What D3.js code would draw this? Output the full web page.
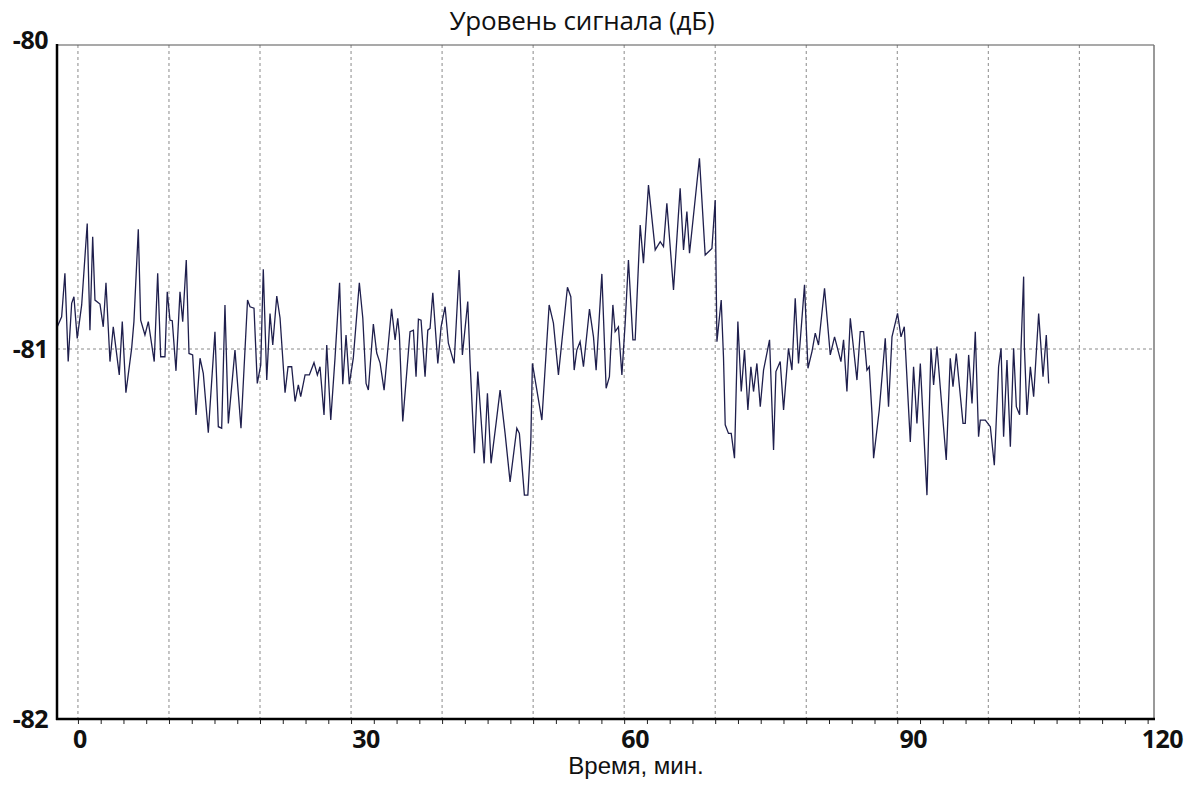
<!DOCTYPE html>
<html>
<head>
<meta charset="utf-8">
<script src="https://cdn.jsdelivr.net/npm/d3@7"></script>
<style>
  html, body { margin: 0; padding: 0; background: #fff; }
  svg { display: block; }
</style>
</head>
<body>
<svg id="chart"></svg>
<script>
// Время, мин.
const times = [
  -2.27, -1.79, -1.43, -1.07, -0.69, -0.44, -0.08, 0.41, 1.02, 1.32, 1.62, 1.87, 2.42, 2.78, 3.08, 3.52, 3.88, 4.54, 4.87, 5.27,
  5.90, 6.15, 6.63, 6.89, 7.36, 7.73, 8.38, 8.76, 9.09, 9.56, 9.81, 10.11, 10.36, 10.77, 11.21, 11.51, 11.90, 12.20, 12.60, 12.97,
  13.41, 13.77, 14.32, 15.05, 15.42, 15.79, 16.15, 16.52, 17.25, 17.91, 18.63, 18.90, 19.34, 19.70, 20.08, 20.36, 20.74, 21.10, 21.40, 21.84,
  22.20, 22.75, 23.08, 23.48, 23.85, 24.21, 24.47, 24.95, 25.42, 25.93, 26.30, 26.59, 27.03, 27.33, 27.77, 28.24, 28.74, 29.09, 29.45, 29.81,
  30.25, 30.91, 31.29, 31.65, 31.90, 32.45, 32.82, 33.19, 33.63, 34.10, 34.45, 34.84, 35.13, 35.31, 35.68, 36.48, 36.85, 37.14, 37.40, 37.69,
  38.13, 38.43, 38.68, 38.98, 39.53, 39.89, 40.33, 40.69, 41.32, 41.87, 42.23, 42.82, 43.08, 43.55, 43.92, 44.62, 44.98, 45.38, 45.93, 46.37,
  46.92, 47.47, 48.21, 48.49, 49.04, 49.42, 49.75, 49.92, 50.96, 51.76, 52.23, 52.78, 53.77, 54.14, 54.51, 54.80, 55.16, 55.53, 56.19, 56.63,
  56.92, 57.55, 58.02, 58.38, 58.76, 59.01, 59.37, 59.75, 60.11, 60.47, 60.96, 61.21, 61.76, 62.12, 62.67, 63.41, 63.96, 64.32, 64.69, 65.42,
  66.15, 66.52, 66.89, 67.18, 68.27, 68.90, 69.64, 70.00, 70.19, 70.66, 70.91, 71.10, 71.46, 71.76, 72.12, 72.49, 72.86, 73.22, 73.59, 73.92,
  74.21, 74.58, 74.95, 75.31, 75.97, 76.41, 76.67, 77.14, 77.51, 78.05, 78.43, 78.79, 79.15, 79.81, 80.19, 80.63, 80.99, 81.35, 82.01, 82.64,
  83.11, 83.81, 84.10, 84.47, 84.84, 85.57, 85.93, 86.30, 86.67, 86.92, 87.22, 87.40, 88.02, 88.68, 89.04, 89.42, 90.03, 90.41, 90.77, 91.43,
  91.79, 92.16, 92.53, 93.26, 93.70, 93.99, 94.36, 94.73, 95.38, 95.82, 96.12, 96.48, 97.22, 97.47, 97.84, 98.21, 98.57, 98.93, 99.12, 99.67,
  100.22, 100.66, 101.13, 101.40, 101.68, 102.05, 102.42, 102.78, 103.08, 103.44, 103.59, 103.88, 103.96, 104.25, 104.62, 104.98, 105.53, 106.01, 106.37, 106.63
];

// Уровень сигнала, дБ
const levels = [
  -80.927, -80.894, -80.751, -81.034, -80.850, -80.828, -80.965, -80.855, -80.587, -80.938, -80.631, -80.839, -80.852, -80.927, -80.782, -81.034, -80.927, -81.070, -80.910, -81.118,
  -80.998, -80.910, -80.606, -80.905, -80.954, -80.910, -81.034, -80.751, -81.021, -81.021, -80.812, -80.905, -80.907, -81.059, -80.812, -80.910, -80.707, -81.012, -81.016, -81.178,
  -81.025, -81.066, -81.226, -80.943, -81.210, -81.214, -80.855, -81.201, -81.003, -81.214, -80.839, -80.861, -80.866, -81.093, -81.043, -80.738, -81.084, -80.883, -80.987, -80.826,
  -80.898, -81.118, -81.048, -81.048, -81.142, -81.097, -81.129, -81.070, -81.070, -81.037, -81.070, -81.048, -81.178, -80.987, -81.192, -81.024, -80.782, -81.095, -80.954, -81.095,
  -81.024, -80.782, -80.898, -81.093, -81.111, -80.918, -81.011, -81.038, -81.111, -80.981, -80.868, -80.970, -80.899, -80.954, -81.196, -80.943, -80.938, -81.075, -80.902, -80.905,
  -81.075, -80.938, -80.932, -80.815, -81.039, -80.927, -80.861, -80.981, -81.039, -80.740, -81.016, -80.844, -81.039, -81.282, -81.061, -81.309, -81.120, -81.309, -81.201, -81.111,
  -81.228, -81.359, -81.214, -81.228, -81.395, -81.395, -81.246, -81.039, -81.192, -80.855, -80.915, -81.070, -80.797, -80.828, -81.057, -81.003, -80.976, -81.048, -80.869, -80.960,
  -81.057, -80.753, -81.106, -81.075, -80.855, -80.943, -80.927, -81.070, -80.915, -80.707, -80.970, -80.970, -80.592, -80.718, -80.461, -80.674, -80.647, -80.663, -80.521, -80.806,
  -80.471, -80.674, -80.548, -80.685, -80.373, -80.691, -80.669, -80.510, -80.976, -80.839, -81.021, -81.205, -81.228, -81.228, -81.295, -80.910, -81.115, -81.003, -81.165, -81.048,
  -81.115, -81.039, -81.156, -81.057, -80.970, -81.273, -81.061, -81.034, -81.165, -80.998, -81.057, -80.833, -81.039, -80.789, -81.052, -81.007, -80.948, -80.987, -80.800, -81.016,
  -80.960, -81.034, -80.970, -81.115, -80.899, -81.084, -80.943, -80.943, -81.057, -81.048, -81.174, -81.295, -81.165, -80.965, -81.156, -80.960, -80.883, -80.960, -80.927, -81.251,
  -81.048, -81.201, -81.039, -81.395, -80.998, -81.097, -80.992, -81.106, -81.300, -81.025, -81.102, -81.012, -81.201, -81.201, -81.016, -81.147, -80.943, -81.237, -81.192, -81.192,
  -81.210, -81.314, -81.048, -80.998, -81.237, -81.030, -81.264, -80.998, -81.156, -81.178, -80.998, -80.762, -80.992, -81.178, -81.048, -81.129, -80.883, -81.075, -80.954, -81.093
];

const xTickValues = [0, 30, 60, 90, 120];
const xTickLabels = ['0', '30', '60', '90', '120'];
const xGridValues = [0, 10, 20, 30, 40, 50, 60, 70, 80, 90, 100, 110];
const yTickValues = [-80, -81, -82];
const yTickLabels = ['-80', '-81', '-82'];
const yGridValues = [-81];

const title = 'Уровень сигнала (дБ)';
const xTitle = 'Время, мин.';

const width = 1196;
const height = 785;
const plot = { left: 57, top: 45, right: 1154, bottom: 719 };

const svg = d3.select('#chart')
  .attr('width', width)
  .attr('height', height);

// шкалы
const x = d3.scaleLinear()
  .domain([-2.3, 118.2])
  .range([plot.left, plot.right]);

// ось Y неравномерная, как на исходном графике
const y = d3.scaleLinear()
  .domain([-82, -81, -80])
  .range([plot.bottom, 349, plot.top]);

// сетка
svg.append('g')
  .selectAll('line')
  .data(xGridValues)
  .join('line')
  .attr('x1', d => x(d))
  .attr('x2', d => x(d))
  .attr('y1', plot.top)
  .attr('y2', plot.bottom)
  .attr('stroke', '#8a8a8a')
  .attr('stroke-width', 1)
  .attr('stroke-dasharray', '3,3');

svg.append('g')
  .selectAll('line')
  .data(yGridValues)
  .join('line')
  .attr('x1', plot.left)
  .attr('x2', plot.right)
  .attr('y1', d => y(d))
  .attr('y2', d => y(d))
  .attr('stroke', '#8a8a8a')
  .attr('stroke-width', 1)
  .attr('stroke-dasharray', '3,3');

// рамка: сверху и справа серая
svg.append('line')
  .attr('x1', plot.left).attr('x2', plot.right)
  .attr('y1', plot.top).attr('y2', plot.top)
  .attr('stroke', '#555').attr('stroke-width', 1.2);
svg.append('line')
  .attr('x1', plot.right).attr('x2', plot.right)
  .attr('y1', plot.top).attr('y2', plot.bottom)
  .attr('stroke', '#777').attr('stroke-width', 1.5);

// мелкие деления по оси X
svg.append('g')
  .attr('transform', `translate(0,${plot.bottom})`)
  .call(d3.axisBottom(x).tickValues(d3.range(0, 118, 2.5)).tickSize(5).tickFormat(''))
  .call(g => g.select('.domain').remove())
  .call(g => g.selectAll('.tick line').attr('stroke', '#222').attr('stroke-width', 1));

// линия сигнала
const series = times.map((t, i) => ({ t, v: levels[i] }));
const line = d3.line()
  .x(d => x(d.t))
  .y(d => y(d.v));

svg.append('path')
  .datum(series)
  .attr('fill', 'none')
  .attr('stroke', '#1f1f4d')
  .attr('stroke-width', 1.3)
  .attr('d', line);

// оси: левая и нижняя чёрные
svg.append('line')
  .attr('x1', plot.left).attr('x2', plot.left)
  .attr('y1', plot.top - 1).attr('y2', plot.bottom + 1)
  .attr('stroke', '#000').attr('stroke-width', 2.5);
svg.append('line')
  .attr('x1', plot.left - 1).attr('x2', plot.right + 1)
  .attr('y1', plot.bottom).attr('y2', plot.bottom)
  .attr('stroke', '#000').attr('stroke-width', 2.5);

// подписи по оси Y
svg.append('g')
  .selectAll('text')
  .data(yTickValues)
  .join('text')
  .attr('x', plot.left - 9)
  .attr('y', d => y(d) + (d === -80 ? -5 : 0))
  .attr('dy', '0.36em')
  .attr('text-anchor', 'end')
  .style('font-family', '"Open Sans", "Noto Sans", sans-serif')
  .style('font-weight', 'bold')
  .style('font-size', '25px')
  .style('letter-spacing', '-0.5px')
  .style('fill', '#111')
  .text((d, i) => yTickLabels[i]);

// подписи по оси X (на исходнике немного сдвинуты)
const labelShift = [2, 15, 11, 16, -8];
svg.append('g')
  .selectAll('text')
  .data(xTickValues)
  .join('text')
  .attr('x', (d, i) => x(d) + labelShift[i])
  .attr('y', 748)
  .attr('text-anchor', 'middle')
  .style('font-family', '"Open Sans", "Noto Sans", sans-serif')
  .style('font-weight', 'bold')
  .style('font-size', '25px')
  .style('letter-spacing', '-0.5px')
  .style('fill', '#111')
  .text((d, i) => xTickLabels[i]);

// заголовки
svg.append('text')
  .attr('x', 582)
  .attr('y', 30)
  .attr('text-anchor', 'middle')
  .style('font-family', '"Open Sans", "Noto Sans", sans-serif')
  .style('font-size', '26px')
  .style('letter-spacing', '-0.2px')
  .style('fill', '#111')
  .text(title);

svg.append('text')
  .attr('x', 636)
  .attr('y', 774)
  .attr('text-anchor', 'middle')
  .style('font-family', '"Liberation Sans", Arial, sans-serif')
  .style('font-size', '24px')
  .style('fill', '#111')
  .text(xTitle);
</script>
</body>
</html>
